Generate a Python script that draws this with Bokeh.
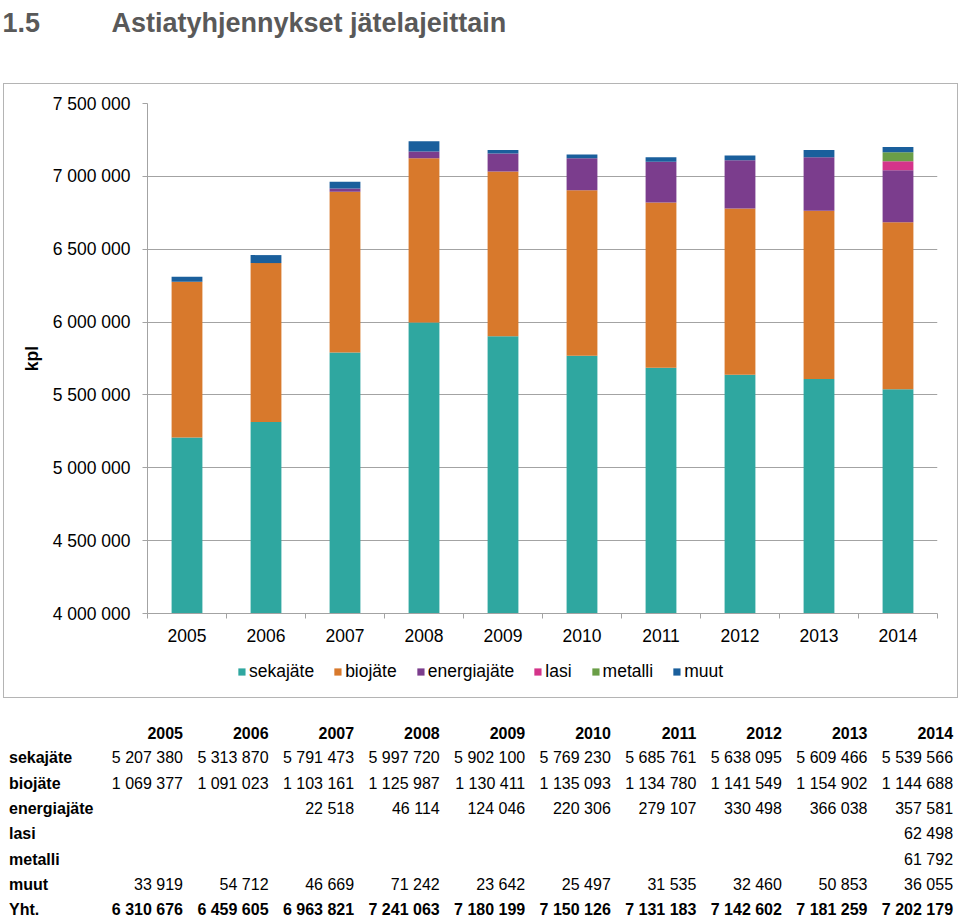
from bokeh.plotting import figure
from bokeh.models import Range1d, FixedTicker, Legend, LegendItem, ColumnDataSource
from bokeh.core.properties import value
from bokeh.embed import file_html
from bokeh.resources import INLINE

# ---------------- data ----------------
years = [2005, 2006, 2007, 2008, 2009, 2010, 2011, 2012, 2013, 2014]
year_labels = ["2005", "2006", "2007", "2008", "2009", "2010", "2011", "2012", "2013", "2014"]
sekajate = [5207380, 5313870, 5791473, 5997720, 5902100, 5769230, 5685761, 5638095, 5609466, 5539566]
biojate = [1069377, 1091023, 1103161, 1125987, 1130411, 1135093, 1134780, 1141549, 1154902, 1144688]
energiajate = [None, None, 22518, 46114, 124046, 220306, 279107, 330498, 366038, 357581]
lasi = [None, None, None, None, None, None, None, None, None, 62498]
metalli = [None, None, None, None, None, None, None, None, None, 61792]
muut = [33919, 54712, 46669, 71242, 23642, 25497, 31535, 32460, 50853, 36055]
totals = [6310676, 6459605, 6963821, 7241063, 7180199, 7150126, 7131183, 7142602, 7181259, 7202179]
series_names = ["sekajäte", "biojäte", "energiajäte", "lasi", "metalli", "muut"]
total_label = "Yht."
colors = ["#2fa7a0", "#d8792c", "#7b3d8d", "#d4348a", "#6a9e47", "#1a5f9c"]
y_ticks = [4000000, 4500000, 5000000, 5500000, 6000000, 6500000, 7000000, 7500000]
y_tick_labels = ["4 000 000", "4 500 000", "5 000 000", "5 500 000",
                 "6 000 000", "6 500 000", "7 000 000", "7 500 000"]
y_label = "kpl"
title_num = "1.5"
title_text = "Astiatyhjennykset jätelajeittain"

FONT = "Liberation Sans"
W = 960
TITLE_H, CHART_H, LOWER_H = 80, 570, 268
GRID = "#a3a3a3"

series_values = [sekajate, biojate, energiajate, lasi, metalli, muut]


def fmt(v):
    return f"{v:,}".replace(",", " ")


def blank_fig(h):
    f = figure(width=W, height=h, x_range=Range1d(0, W), y_range=Range1d(h, 0),
               toolbar_location=None, output_backend="svg", min_border=0)
    f.axis.visible = False
    f.grid.visible = False
    f.outline_line_color = None
    f.background_fill_color = "white"
    f.border_fill_color = "white"
    return f


# ---------------- title ----------------
pt = blank_fig(TITLE_H)
pt.text(x=[2, 111], y=[22, 22], text=[title_num, title_text],
        text_font=value(FONT), text_font_size="27px", text_font_style="bold",
        text_color="#595959", text_baseline="alphabetic", text_align="left")

# ---------------- chart ----------------
data = {"year": years}
for name, vals in zip(series_names, series_values):
    data[name] = [v if v is not None else 0 for v in vals]
src = ColumnDataSource(data)

p = figure(width=W, height=CHART_H,
           x_range=Range1d(years[0] - 0.5, years[-1] + 0.5),
           y_range=Range1d(y_ticks[0], y_ticks[-1]),
           toolbar_location=None, output_backend="svg",
           min_border_left=147, min_border_right=23,
           min_border_top=23, min_border_bottom=37)
p.outline_line_color = None
p.background_fill_color = "white"
p.border_fill_color = "white"

p.vbar_stack(series_names, x="year", width=0.39, fill_color=colors,
             line_color=None, source=src)

yt = FixedTicker(ticks=y_ticks)
p.yaxis.ticker = yt
p.yaxis.major_label_overrides = dict(zip(y_ticks, y_tick_labels))
p.yaxis.axis_line_color = GRID
p.yaxis.major_tick_line_color = GRID
p.yaxis.major_tick_out = 5
p.yaxis.major_tick_in = 0
p.yaxis.minor_tick_line_color = None
p.yaxis.major_label_standoff = 12
p.yaxis.major_label_text_font = FONT
p.yaxis.major_label_text_font_size = "17.5px"
p.yaxis.major_label_text_color = "black"
p.yaxis.axis_label = y_label
p.yaxis.axis_label_text_font = FONT
p.yaxis.axis_label_text_font_size = "17.5px"
p.yaxis.axis_label_text_font_style = "bold"
p.yaxis.axis_label_text_color = "black"
p.yaxis.axis_label_standoff = 8

xt = FixedTicker(ticks=years, minor_ticks=[y - 0.5 for y in years] + [years[-1] + 0.5])
p.xaxis.ticker = xt
p.xaxis.major_label_overrides = dict(zip(years, year_labels))
p.xaxis.axis_line_color = GRID
p.xaxis.major_tick_line_color = None
p.xaxis.major_tick_out = 0
p.xaxis.major_tick_in = 0
p.xaxis.minor_tick_line_color = GRID
p.xaxis.minor_tick_out = 5
p.xaxis.minor_tick_in = 0
p.xaxis.major_label_standoff = 10
p.xaxis.major_label_text_font = FONT
p.xaxis.major_label_text_font_size = "17.5px"
p.xaxis.major_label_text_color = "black"

p.ygrid.ticker = yt
p.ygrid.grid_line_color = GRID
p.xgrid.visible = False

# ---------------- legend + table ----------------
pl = blank_fig(LOWER_H)
# legend swatch renderers share the chart data (they fall outside this panel's view)
swatches = pl.vbar_stack(series_names, x="year", width=0.39, fill_color=colors,
                         line_color=None, source=src)
legend = Legend(items=[LegendItem(label=n, renderers=[r]) for n, r in zip(series_names, swatches)],
                orientation="horizontal", location="top_center",
                glyph_width=9, glyph_height=9, label_standoff=3, spacing=19,
                label_text_font=FONT, label_text_font_size="17.5px",
                label_text_color="black", border_line_color=None,
                background_fill_alpha=0, padding=0, margin=11, label_height=20)
pl.add_layout(legend)

row_names = series_names + [total_label]
row_vals = series_values + [totals]
y0, dy = 82, 25.3
x_right0, dx = 182.5, 85.56

bx, by, btxt = [], [], []   # bold
nx, ny, ntxt = [], [], []   # normal
for i, yl in enumerate(year_labels):
    bx.append(x_right0 + i * dx); by.append(y0); btxt.append(yl)
for r, (name, vals) in enumerate(zip(row_names, row_vals)):
    yy = y0 + (r + 1) * dy
    for i, v in enumerate(vals):
        if v is None:
            continue
        if name == total_label:
            bx.append(x_right0 + i * dx); by.append(yy); btxt.append(fmt(v))
        else:
            nx.append(x_right0 + i * dx); ny.append(yy); ntxt.append(fmt(v))

pl.text(x=bx, y=by, text=btxt, text_font=value(FONT), text_font_size="16px",
        text_font_style="bold", text_color="black", text_align="right",
        text_baseline="middle")
pl.text(x=nx, y=ny, text=ntxt, text_font=value(FONT), text_font_size="16px",
        text_color="black", text_align="right", text_baseline="middle")
pl.text(x=[8.5] * len(row_names), y=[y0 + (r + 1) * dy for r in range(len(row_names))],
        text=row_names, text_font=value(FONT), text_font_size="16px",
        text_font_style="bold", text_color="black", text_align="left",
        text_baseline="middle")

html = file_html([pt, p, pl], INLINE)
box = ('<div style="position:absolute;left:3px;top:83px;width:955px;height:615px;'
       'border:1px solid #b4b4b4;box-sizing:border-box;pointer-events:none;"></div>')
html = html.replace("</body>", box + "</body>", 1)
open("out.html", "w").write(html)
